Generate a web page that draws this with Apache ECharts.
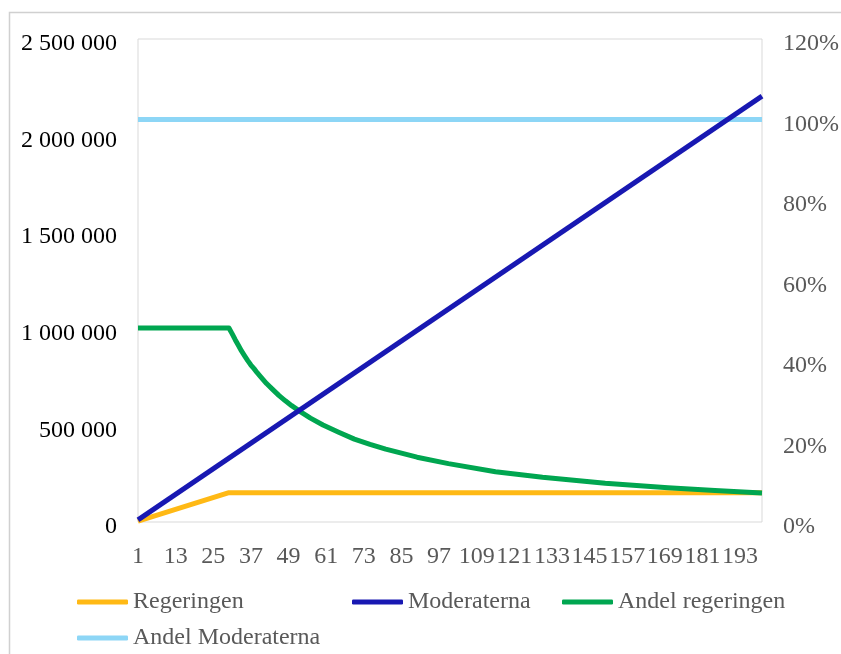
<!DOCTYPE html>
<html>
<head>
<meta charset="utf-8">
<script src="https://cdn.jsdelivr.net/npm/echarts@6/dist/echarts.min.js"></script>
<style>
  html, body { margin: 0; padding: 0; background: #fff; }
  #chart { width: 841px; height: 654px; }
</style>
</head>
<body>
<div id="chart"></div>
<script>
// x categories 1..200 (tick labels every 12th)
const categories = Array.from({ length: 200 }, (_, i) => String(i + 1));

// [category, value] readings, left axis
const regeringen = [[1, 5000], [30, 152000], [200, 152000]];
const moderaterna = [[1, 11000], [200, 2204000]];

// [category, share] readings, right axis
const andelRegeringen = [
  [1, 0.482], [30, 0.482], [31, 0.468], [32, 0.453], [33, 0.439], [34, 0.425],
  [35, 0.413], [36, 0.401], [37, 0.39], [38, 0.381], [39, 0.371], [40, 0.362],
  [42, 0.344], [44, 0.329], [46, 0.314], [48, 0.301], [50, 0.289], [53, 0.273],
  [56, 0.258], [60, 0.241], [65, 0.223], [70, 0.206], [75, 0.193], [80, 0.181],
  [90, 0.161], [100, 0.145], [115, 0.125], [130, 0.111], [150, 0.096],
  [170, 0.085], [185, 0.078], [200, 0.072]
];
const andelModeraterna = [[1, 1.0], [200, 1.0]];

const font = 'Liberation Serif';
const grey = '#595959';

// category number -> index on the category axis
const toIdx = arr => arr.map(([c, v]) => [c - 1, v]);

function spaced(v) {
  return String(v).replace(/\B(?=(\d{3})+(?!\d))/g, ' ');
}

const chart = echarts.init(document.getElementById('chart'));

function legendAt(name, left, top) {
  return {
    data: [name],
    left: left,
    top: top,
    padding: 0,
    icon: 'roundRect',
    itemWidth: 51,
    itemHeight: 5,
    itemGap: 0,
    selectedMode: false,
    textStyle: { fontFamily: font, fontSize: 24, color: grey }
  };
}

const option = {
  animation: false,
  backgroundColor: '#fff',
  graphic: [{
    type: 'rect',
    shape: { x: 9.5, y: 12.5, width: 900, height: 800 },
    style: { fill: 'none', stroke: '#d0d0d0', lineWidth: 1.5 },
    silent: true
  }],
  grid: {
    left: 138, top: 39, right: 79, bottom: 132,
    outerBoundsMode: 'none',
    containLabel: false,
    show: true, borderColor: '#d9d9d9', borderWidth: 1
  },
  legend: [
    legendAt('Regeringen', 77, 590),
    legendAt('Moderaterna', 352, 590),
    legendAt('Andel regeringen', 562, 590),
    legendAt('Andel Moderaterna', 77, 626)
  ],
  xAxis: {
    type: 'category',
    data: categories,
    boundaryGap: false,
    axisLine: { show: false },
    axisTick: { show: false },
    axisLabel: {
      interval: 11,
      hideOverlap: false,
      margin: 23,
      fontFamily: font, fontSize: 24, color: grey
    }
  },
  yAxis: [{
    type: 'value',
    min: 0, max: 2500000, interval: 500000,
    splitLine: { show: false },
    axisLine: { show: false },
    axisTick: { show: false },
    axisLabel: {
      margin: 21,
      verticalAlign: 'top',
      lineHeight: 10,
      fontFamily: font, fontSize: 24, color: '#000',
      formatter: v => spaced(v)
    }
  }, {
    type: 'value',
    min: 0, max: 1.2, interval: 0.2,
    position: 'right',
    splitLine: { show: false },
    axisLine: { show: false },
    axisTick: { show: false },
    axisLabel: {
      margin: 21,
      verticalAlign: 'top',
      lineHeight: 10,
      fontFamily: font, fontSize: 24, color: grey,
      formatter: v => Math.round(v * 100) + '%'
    }
  }],
  series: [{
    name: 'Andel Moderaterna',
    type: 'line', yAxisIndex: 1, z: 1,
    data: toIdx(andelModeraterna),
    showSymbol: false,
    lineStyle: { width: 5, color: '#8DD6F6' },
    itemStyle: { color: '#8DD6F6' }
  }, {
    name: 'Regeringen',
    type: 'line', yAxisIndex: 0, z: 2,
    data: toIdx(regeringen),
    showSymbol: false,
    lineStyle: { width: 5, color: '#FFB915' },
    itemStyle: { color: '#FFB915' }
  }, {
    name: 'Andel regeringen',
    type: 'line', yAxisIndex: 1, z: 3,
    data: toIdx(andelRegeringen),
    showSymbol: false,
    lineStyle: { width: 5, color: '#00A650', join: 'round' },
    itemStyle: { color: '#00A650' }
  }, {
    name: 'Moderaterna',
    type: 'line', yAxisIndex: 0, z: 4,
    data: toIdx(moderaterna),
    showSymbol: false,
    lineStyle: { width: 5, color: '#1818B2' },
    itemStyle: { color: '#1818B2' }
  }]
};

chart.setOption(option);
</script>
</body>
</html>
